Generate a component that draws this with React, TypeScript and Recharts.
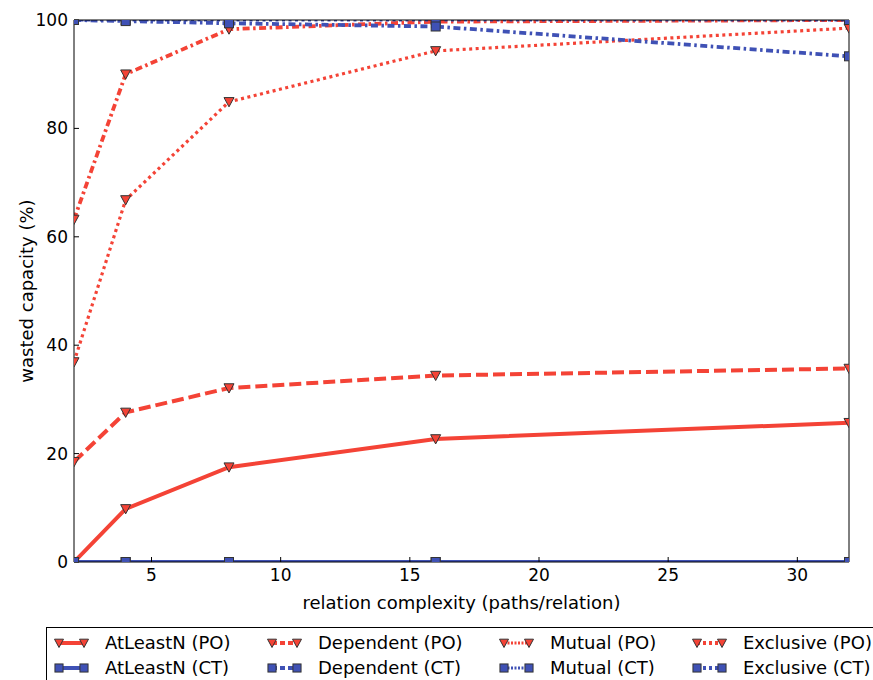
import React from 'react';
import { LineChart, Line, XAxis, YAxis } from 'recharts';

const xs = [2, 4, 8, 16, 32];
const atLeastNPO = [0, 9.8, 17.5, 22.7, 25.7];
const dependentPO = [18.5, 27.6, 32.1, 34.4, 35.7];
const mutualPO = [36.9, 66.8, 84.9, 94.3, 98.5];
const exclusivePO = [63.2, 90.0, 98.3, 99.7, 100];
const atLeastNCT = [0, 0, 0, 0, 0];
const dependentCT = [0, 0, 0, 0, 0];
const mutualCT = [100, 100, 100, 100, 100];
const exclusiveCT = [100, 99.8, 99.4, 98.8, 93.3];

const xTicks = [5, 10, 15, 20, 25, 30];
const yTicks = [0, 20, 40, 60, 80, 100];

const RED = '#F44336';
const BLUE = '#3F51B5';
const EDGE = '#333';
const FONT = '"DejaVu Sans", sans-serif';

const data = xs.map((x, i) => ({
  x,
  atLeastNPO: atLeastNPO[i],
  dependentPO: dependentPO[i],
  mutualPO: mutualPO[i],
  exclusivePO: exclusivePO[i],
  atLeastNCT: atLeastNCT[i],
  dependentCT: dependentCT[i],
  mutualCT: mutualCT[i],
  exclusiveCT: exclusiveCT[i],
}));

type Series = { key: string; name: string; color: string; width: number; dash?: string; legendDash?: string; marker: 'tri' | 'sq' };

const SOLID = undefined;
const DASHED = '12 5';
const DOTTED = '3 3.5';
const DASHDOT = '7 3.5 2.5 3.5';

const series: Series[] = [
  { key: 'atLeastNPO', name: 'AtLeastN (PO)', color: RED, width: 4, dash: SOLID, marker: 'tri' },
  { key: 'dependentPO', name: 'Dependent (PO)', color: RED, width: 4, dash: DASHED, legendDash: '5 3', marker: 'tri' },
  { key: 'mutualPO', name: 'Mutual (PO)', color: RED, width: 3.2, dash: DOTTED, legendDash: '2 1.5', marker: 'tri' },
  { key: 'exclusivePO', name: 'Exclusive (PO)', color: RED, width: 3.8, dash: DASHDOT, legendDash: '3 3', marker: 'tri' },
  { key: 'atLeastNCT', name: 'AtLeastN (CT)', color: BLUE, width: 4, dash: SOLID, marker: 'sq' },
  { key: 'dependentCT', name: 'Dependent (CT)', color: BLUE, width: 4, dash: DASHED, legendDash: '5 3', marker: 'sq' },
  { key: 'mutualCT', name: 'Mutual (CT)', color: BLUE, width: 3.2, dash: DOTTED, legendDash: '2 1.5', marker: 'sq' },
  { key: 'exclusiveCT', name: 'Exclusive (CT)', color: BLUE, width: 3.8, dash: DASHDOT, legendDash: '3 3', marker: 'sq' },
];

const Marker = ({ cx, cy, kind, color, s = 5 }: any) => {
  if (cx == null || cy == null) return null;
  if (kind === 'tri') {
    return (
      <polygon
        points={`${cx - s},${cy - s * 0.85} ${cx + s},${cy - s * 0.85} ${cx},${cy + s}`}
        fill={color}
        stroke={EDGE}
        strokeWidth={1}
      />
    );
  }
  return <rect x={cx - s * 0.9} y={cy - s * 0.9} width={s * 1.8} height={s * 1.8} fill={color} stroke={EDGE} strokeWidth={1} />;
};

const LegendIcon = ({ s }: { s: Series }) => (
  <svg width={40} height={16} style={{ position: 'absolute', left: -8, top: -8 }}>
    <line x1={8} y1={8} x2={33} y2={8} stroke={s.color} strokeWidth={s.width} strokeDasharray={s.legendDash} />
    <Marker cx={8} cy={8} kind={s.marker} color={s.color} s={4.5} />
    <Marker cx={33} cy={8} kind={s.marker} color={s.color} s={4.5} />
  </svg>
);

// first marker centre of each legend column, and row centres (page coords)
const colX = [59, 272, 504, 697];
const rowY = [643, 668];

export default function App() {
  return (
    <div style={{ position: 'absolute', left: 0, top: 0, width: 873, height: 680, overflow: 'hidden', background: '#fff', fontFamily: FONT }}>
      <LineChart width={873} height={680} data={data} margin={{ top: 19, right: 23, bottom: 68, left: 0 }}>
        <XAxis
          dataKey="x"
          type="number"
          domain={[2, 32]}
          ticks={xTicks}
          allowDataOverflow
          height={50}
          tickSize={-5}
          tickMargin={12}
          stroke="#000"
          tick={{ fill: '#000', fontSize: 17, fontFamily: FONT }}
          label={{ value: 'relation complexity (paths/relation)', position: 'insideBottom', offset: 3, fill: '#000', fontSize: 18, fontFamily: FONT }}
        />
        <XAxis
          xAxisId="top"
          orientation="top"
          dataKey="x"
          type="number"
          domain={[2, 32]}
          ticks={xTicks}
          allowDataOverflow
          height={1}
          tickSize={-5}
          tick={false}
          stroke="#000"
        />
        <YAxis
          type="number"
          domain={[0, 100]}
          ticks={yTicks}
          allowDataOverflow
          width={74}
          tickSize={-5}
          tickMargin={11}
          stroke="#000"
          tick={{ fill: '#000', fontSize: 17, fontFamily: FONT }}
          label={{ value: 'wasted capacity (%)', angle: -90, position: 'insideLeft', offset: 27, fill: '#000', fontSize: 18, fontFamily: FONT, style: { textAnchor: 'middle' } }}
        />
        <YAxis
          yAxisId="right"
          orientation="right"
          type="number"
          domain={[0, 100]}
          ticks={yTicks}
          allowDataOverflow
          width={1}
          tickSize={-5}
          tick={false}
          stroke="#000"
        />
        {series.map((s) => (
          <Line
            key={s.key}
            dataKey={s.key}
            type="linear"
            stroke={s.color}
            strokeWidth={s.width}
            strokeDasharray={s.dash}
            strokeLinecap="butt"
            isAnimationActive={false}
            dot={(p: any) => <Marker key={`${s.key}-${p.index}`} cx={p.cx} cy={p.cy} kind={s.marker} color={s.color} />}
            activeDot={false}
          />
        ))}
      </LineChart>
      <div
        style={{
          position: 'absolute',
          left: 46,
          top: 627,
          width: 900,
          height: 80,
          borderTop: '1.5px solid #000',
          borderLeft: '1.5px solid #000',
          boxSizing: 'border-box',
        }}
      />
      {series.map((s, i) => {
        const col = i % 4;
        const row = Math.floor(i / 4);
        return (
          <div key={s.key} style={{ position: 'absolute', left: colX[col], top: rowY[row], height: 0 }}>
            <LegendIcon s={s} />
            <span style={{ position: 'absolute', left: 46, top: -11, fontSize: 18, lineHeight: '22px', whiteSpace: 'nowrap', color: '#000' }}>
              {s.name}
            </span>
          </div>
        );
      })}
    </div>
  );
}
